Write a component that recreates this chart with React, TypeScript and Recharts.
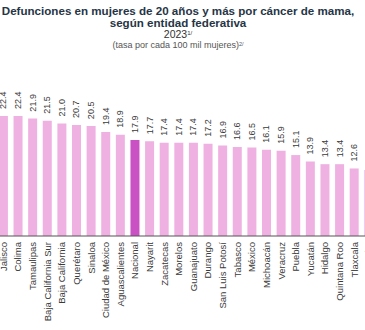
import React from "react";
import { BarChart, Bar, XAxis, YAxis, Cell, LabelList } from "recharts";

const entidades = [
  "Jalisco", "Colima", "Tamaulipas", "Baja California Sur", "Baja California",
  "Querétaro", "Sinaloa", "Ciudad de México", "Aguascalientes", "Nacional",
  "Nayarit", "Zacatecas", "Morelos", "Guanajuato", "Durango",
  "San Luis Potosí", "Tabasco", "México", "Michoacán", "Veracruz",
  "Puebla", "Yucatán", "Hidalgo", "Quintana Roo", "Tlaxcala", "Campeche",
];

const tasas = [
  22.4, 22.4, 21.9, 21.5, 21.0, 20.7, 20.5, 19.4, 18.9, 17.9,
  17.7, 17.4, 17.4, 17.4, 17.2, 16.9, 16.6, 16.5, 16.1, 15.9,
  15.1, 13.9, 13.4, 13.4, 12.6, 12.3,
];

const data = entidades.map((name, i) => ({ name, tasa: tasas[i] }));

const PINK = "#EFB1E2";
const NACIONAL = "#C951C3";
const FONT = "'Liberation Sans', Arial, sans-serif";

const CategoryTick = (props: any) => {
  const { x, y, payload } = props;
  return (
    <text
      x={x}
      y={y + 6}
      transform={`rotate(-90, ${x}, ${y + 6})`}
      textAnchor="end"
      dominantBaseline="central"
      fontSize={9.5}
      fill="#3a3a3a"
      fontFamily={FONT}
    >
      {payload.value}
    </text>
  );
};

const ValueLabel = (props: any) => {
  const { x, y, width, value } = props;
  const cx = x + width / 2;
  const cy = y - 7;
  return (
    <text
      x={cx}
      y={cy}
      transform={`rotate(-90, ${cx}, ${cy})`}
      textAnchor="start"
      dominantBaseline="central"
      fontSize={9}
      fill="#3a3a3a"
      fontFamily={FONT}
    >
      {Number(value).toFixed(1)}
    </text>
  );
};

const line = (top: number): React.CSSProperties => ({
  position: "absolute",
  left: 0,
  top,
  width: 356,
  textAlign: "center",
  whiteSpace: "nowrap",
});

const sup: React.CSSProperties = { position: "relative", top: -3, fontSize: 6 };

export default function App() {
  return (
    <div
      style={{
        position: "absolute",
        left: 0,
        top: 0,
        width: 365,
        height: 330,
        overflow: "hidden",
        background: "#fff",
        fontFamily: FONT,
      }}
    >
      <div style={{ ...line(5), fontWeight: "bold", fontSize: 11.6, lineHeight: "12px", color: "#263546" }}>
        Defunciones en mujeres de 20 años y más por cáncer de mama,
      </div>
      <div style={{ ...line(17), fontWeight: "bold", fontSize: 11.6, lineHeight: "12px", color: "#263546" }}>
        según entidad federativa
      </div>
      <div style={{ ...line(29), fontSize: 10.5, lineHeight: "10px", color: "#333" }}>
        2023<span style={sup}>1/</span>
      </div>
      <div style={{ ...line(41), fontSize: 9, lineHeight: "9px", color: "#555" }}>
        (tasa por cada 100 mil mujeres)<span style={{ ...sup, top: -2, fontSize: 5.5 }}>2/</span>
      </div>
      <div style={{ position: "absolute", left: -4, top: 0 }}>
        <BarChart
          width={380}
          height={330}
          data={data}
          margin={{ top: 102, right: 0, bottom: 0, left: 0 }}
          barCategoryGap="20%"
        >
          <XAxis
            dataKey="name"
            interval={0}
            height={94}
            tickLine={false}
            tickSize={0}
            tickMargin={0}
            axisLine={{ stroke: "#555" }}
            tick={<CategoryTick />}
          />
          <YAxis hide domain={[0, 25]} />
          <Bar dataKey="tasa" isAnimationActive={false}>
            {data.map((d) => (
              <Cell key={d.name} fill={d.name === "Nacional" ? NACIONAL : PINK} />
            ))}
            <LabelList dataKey="tasa" content={<ValueLabel />} />
          </Bar>
        </BarChart>
      </div>
    </div>
  );
}
